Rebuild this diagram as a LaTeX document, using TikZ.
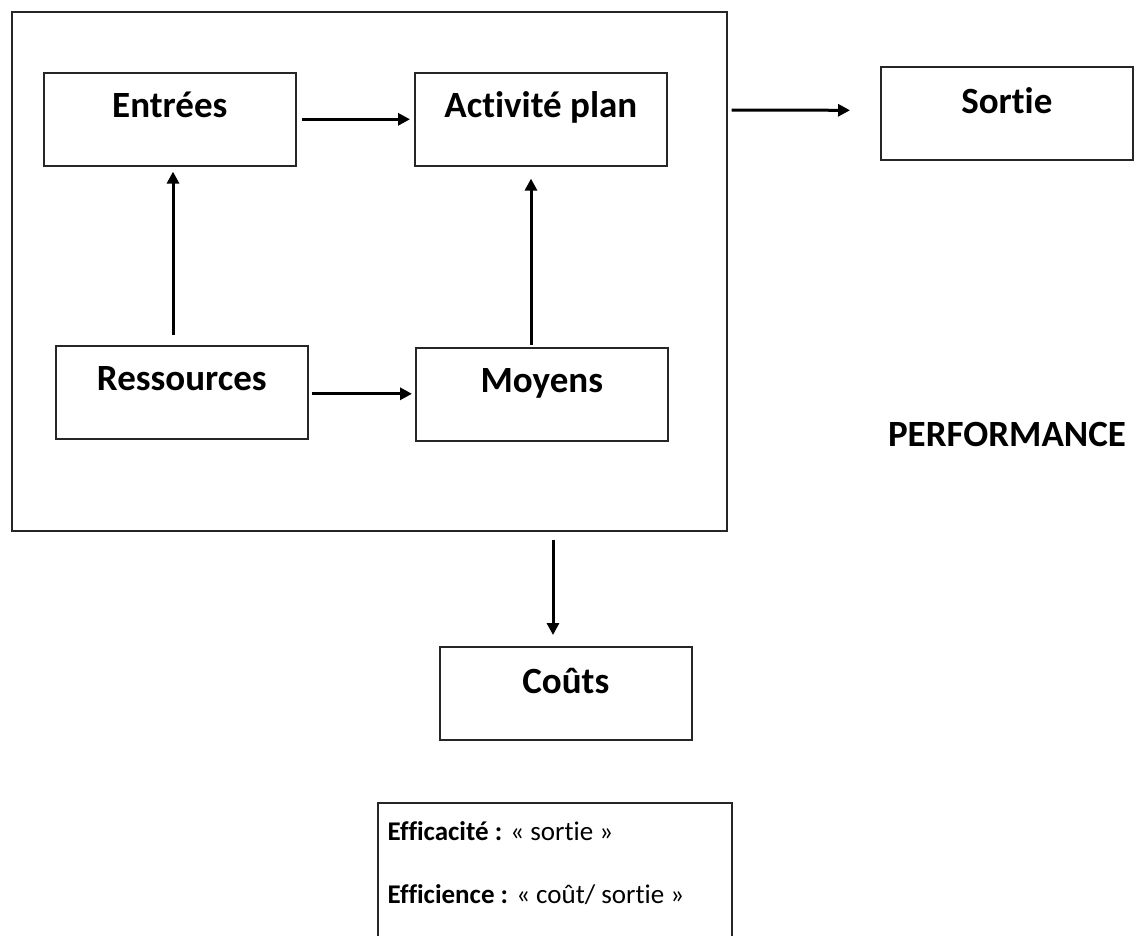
\documentclass[tikz,border=0pt]{standalone}
\usepackage{fontspec}
\setmainfont{Carlito}[Ligatures={NoCommon}]
\usetikzlibrary{arrows.meta,calc}
\begin{document}
\begin{tikzpicture}[x=1pt,y=-1pt,
  box/.style={draw=black!85, line width=1.6pt, inner sep=0pt,
    minimum width=252pt, text height=45pt, text depth=48pt,
    font=\fontsize{37}{40}\selectfont\bfseries},
  flow/.style={line width=3pt, -{Triangle[length=12pt,width=12pt]}},
  frame/.style={draw=black!85, line width=1.6pt}]
\useasboundingbox (0,0) rectangle (1137,935);
% enclosing system frame
\node[frame, inner sep=0pt, minimum width=715pt, minimum height=519pt, anchor=north west] (sys) at (11,11) {};
% boxes
\node[box, anchor=north west] (ent) at (43,72) {Entrées};
\node[box, anchor=north west, text height=47pt, text depth=46pt] (sor) at (880,66) {Sortie};
\node[box, anchor=north west] (act) at (414,72) {Activité plan};
\node[box, anchor=north west] (res) at (55,345) {Ressources};
\node[box, anchor=north west] (moy) at (415,347) {Moyens};
\node[box, anchor=north west, text height=47pt, text depth=46pt] (cou) at (439,646) {Coûts};
\node[font=\fontsize{37}{40}\selectfont\bfseries, anchor=base] (perf) at (1007,446) {PERFORMANCE};
% connectors
\draw[flow] ($(ent.east)+(5,0)$) -- ($(act.west)+(-4,0)$);
\draw[flow] ($(res.east)+(3,1.5)$) -- ($(moy.west)+(-3,-0.5)$);
\draw[flow] ($(res.north west)+(118,-10)$) -- ($(ent.south west)+(130,5)$);
\draw[flow] ($(moy.north west)+(116,-2)$) -- ($(act.south west)+(117,12)$);
\draw[flow] ($(sys.north east)+(4,99)$) -- ($(sor.west)+(-30,-3)$);
\draw[flow] ($(sys.south west)+(542,8)$) -- ($(cou.north west)+(114,-11)$);
% indicator box, running past the bottom edge
\node[draw=black!85, line width=1.6pt, inner sep=0pt, minimum width=354pt, minimum height=200pt, anchor=north west] (ind) at (377,802) {};
\node[anchor=base west, font=\fontsize{27}{30}\selectfont] (eff1) at (384,840) {\textbf{Efficacité :} « sortie »};
\node[anchor=base west, font=\fontsize{27}{30}\selectfont] (eff2) at (384,903) {\textbf{Efficience :} « coût/ sortie »};
\end{tikzpicture}
\end{document}
